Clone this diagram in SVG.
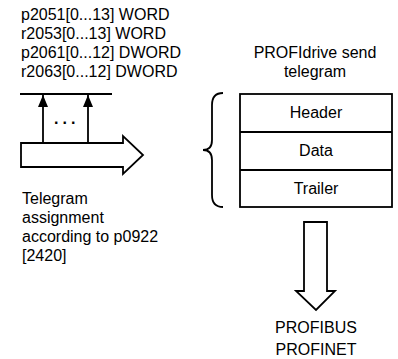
<svg xmlns="http://www.w3.org/2000/svg" width="398" height="359" viewBox="0 0 398 359">
<style>
text{font-family:"Liberation Sans",Arial,sans-serif;font-size:16px;fill:#000}
.c{text-anchor:middle}
.ln{stroke:#000;stroke-width:1.8;fill:none}
.sh{stroke:#000;stroke-width:1.8;fill:#fff}
</style>
<defs>
<marker id="ah" viewBox="0 0 12 10" refX="12" refY="5" markerWidth="12" markerHeight="10" markerUnits="userSpaceOnUse" orient="auto">
<path d="M0 0 L12 5 L0 10 Z" fill="#000"/>
</marker>
</defs>
<rect width="398" height="359" fill="#fff"/>
<g id="params">
<text x="21" y="20">p2051[0...13] WORD</text>
<text x="21" y="39">r2053[0...13] WORD</text>
<text x="21" y="58">p2061[0...12] DWORD</text>
<text x="21" y="77">r2063[0...12] DWORD</text>
</g>
<g id="assignment">
<path class="sh" d="M21 143 H123 V136 L143 155 L123 174 V167 H21 Z"/>
<text x="54" y="124" font-size="19" font-weight="bold" letter-spacing="4">...</text>
<text x="22" y="204">Telegram</text>
<text x="22" y="223">assignment</text>
<text x="22" y="242">according to p0922</text>
<text x="22" y="261">[2420]</text>
</g>
<g id="telegram">
<text class="c" x="315" y="58">PROFIdrive send</text>
<text class="c" x="315" y="77">telegram</text>
<rect class="ln" x="240" y="94" width="152" height="113"/>
<line class="ln" x1="240" y1="132" x2="392" y2="132"/>
<line class="ln" x1="240" y1="170" x2="392" y2="170"/>
<text class="c" x="316" y="118">Header</text>
<text class="c" x="316" y="156">Data</text>
<text class="c" x="316" y="194">Trailer</text>
<path class="ln" stroke-width="1.5" d="M223 93 Q212 93 212 105 L212 140 Q212 150 203 150 Q212 150 212 160 L212 195 Q212 207 223 207"/>
</g>
<g id="bus">
<path class="sh" d="M304 222 H327 V291 H335 L316 310 L296 291 H304 Z"/>
<text class="c" x="316" y="333">PROFIBUS</text>
<text class="c" x="316" y="355">PROFINET</text>
</g>
<g id="connectors">
<line class="ln" x1="20" y1="94" x2="112" y2="94"/>
<line class="ln" x1="43" y1="143" x2="43" y2="95" marker-end="url(#ah)"/>
<line class="ln" x1="88" y1="143" x2="88" y2="95" marker-end="url(#ah)"/>
</g>
</svg>
